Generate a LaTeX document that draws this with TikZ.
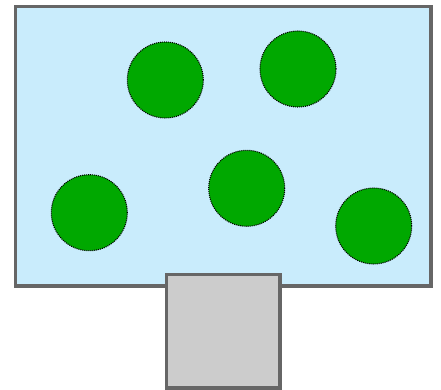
\documentclass[tikz,border=0pt]{standalone}
\definecolor{skyfill}{HTML}{C9ECFC}
\definecolor{edgegray}{HTML}{666666}
\definecolor{treegreen}{HTML}{00A800}
\definecolor{boxgray}{HTML}{CCCCCC}
\tikzset{
  field/.style={draw=edgegray, fill=skyfill, line width=3.5pt},
  tree/.style={circle, draw=black, fill=treegreen, dash pattern=on 1pt off 1pt, line width=1.1pt, minimum size=76pt, inner sep=0pt},
  house/.style={draw=edgegray, fill=boxgray, line width=3.5pt}
}
\begin{document}
\begin{tikzpicture}[x=1pt,y=-1pt]
\useasboundingbox (0,0) rectangle (441,390);
\draw[field] (15.3,6.3) rectangle (431,286);
\node[tree] (t1) at (165.3,80) {};
\node[tree] (t2) at (298,69) {};
\node[tree] (t3) at (89.3,212.7) {};
\node[tree] (t4) at (246.7,188.3) {};
\node[tree] (t5) at (373.7,226) {};
\draw[house] (166.7,274.7) rectangle (280,388);
\end{tikzpicture}
\end{document}
